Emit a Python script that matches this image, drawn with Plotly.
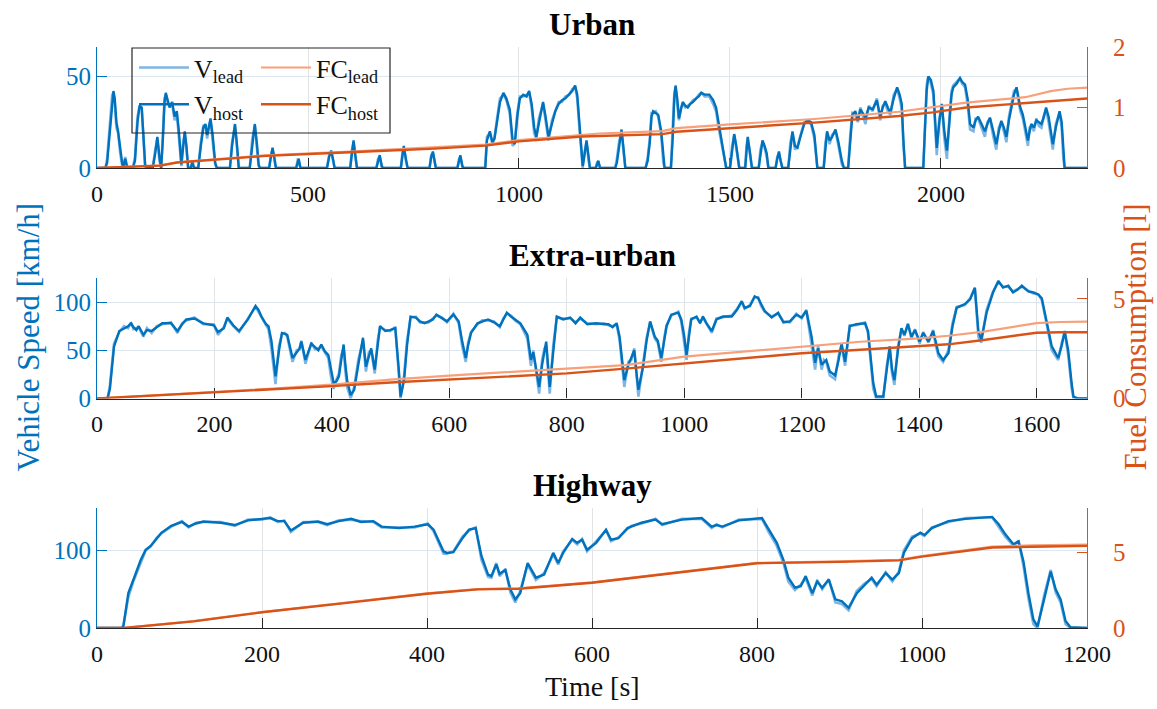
import plotly.graph_objects as go

# ---------------- Urban ----------------
urban_t = [0, 20, 24, 30, 36, 39, 42, 46, 50, 55, 60, 63, 67, 71, 75, 85, 90, 96, 101, 106, 110, 114, 118, 132, 138, 143, 148, 152, 156, 160, 163, 167, 172, 178, 184, 189, 194, 200, 203, 208, 212, 216, 222, 226, 230, 240, 246, 252, 257, 261, 265, 269, 274, 280, 284, 315, 320, 327, 332, 336, 362, 368, 374, 379, 383, 386, 408, 412, 416, 420, 424, 472, 476, 478, 482, 545, 550, 555, 560, 563, 600, 604, 608, 612, 616, 662, 666, 670, 675, 678, 720, 724, 727, 732, 736, 788, 792, 796, 800, 803, 854, 858, 861, 866, 869, 920, 924, 931, 937, 942, 948, 955, 963, 970, 978, 985, 990, 996, 1002, 1010, 1018, 1024, 1030, 1036, 1041, 1047, 1057, 1063, 1070, 1078, 1086, 1094, 1102, 1110, 1119, 1126, 1133, 1138, 1143, 1148, 1151, 1154, 1160, 1165, 1168, 1182, 1185, 1188, 1192, 1228, 1232, 1237, 1243, 1248, 1252, 1300, 1305, 1310, 1314, 1318, 1324, 1330, 1337, 1342, 1345, 1360, 1364, 1368, 1371, 1375, 1379, 1384, 1388, 1394, 1400, 1406, 1412, 1420, 1426, 1432, 1440, 1451, 1460, 1467, 1473, 1479, 1485, 1491, 1500, 1505, 1510, 1515, 1522, 1536, 1539, 1542, 1547, 1552, 1568, 1572, 1577, 1582, 1587, 1591, 1608, 1612, 1616, 1620, 1624, 1638, 1643, 1648, 1654, 1660, 1668, 1676, 1683, 1692, 1700, 1705, 1707, 1722, 1726, 1730, 1736, 1742, 1750, 1757, 1765, 1770, 1780, 1785, 1790, 1797, 1803, 1809, 1815, 1821, 1829, 1838, 1848, 1856, 1862, 1868, 1874, 1880, 1888, 1896, 1902, 1907, 1911, 1915, 1958, 1962, 1966, 1970, 1976, 1982, 1986, 1990, 1996, 2002, 2008, 2014, 2020, 2025, 2029, 2037, 2045, 2050, 2057, 2063, 2069, 2077, 2082, 2088, 2096, 2104, 2110, 2116, 2124, 2131, 2137, 2143, 2149, 2155, 2161, 2167, 2173, 2179, 2184, 2188, 2194, 2200, 2206, 2210, 2214, 2220, 2226, 2232, 2238, 2244, 2249, 2255, 2260, 2265, 2272, 2278, 2281, 2286, 2290, 2293, 2346]
urban_v_host = [0, 0, 3, 20, 38, 42, 38, 25, 20, 10, 2, 1, 5, 1, 0, 0, 4, 25, 34, 33, 20, 2, 0, 0, 8, 17, 6, 0, 15, 36, 41, 38, 33, 36, 28, 31, 20, 2, 10, 20, 12, 0, 0, 3, 0, 0, 12, 22, 24, 18, 22, 27, 18, 3, 0, 0, 12, 24, 12, 0, 0, 14, 24, 13, 2, 0, 0, 6, 11, 6, 0, 0, 4, 5, 0, 0, 6, 9.5, 4, 0, 0, 8, 15, 7, 0, 0, 4, 7, 1, 0, 0, 8, 12, 5, 0, 0, 6, 9, 3, 0, 0, 4, 7, 1, 0, 0, 15, 20, 14, 16, 25, 36, 41, 38, 32, 15, 13, 28, 38, 40, 39, 42, 35, 22, 17, 25, 36, 28, 17, 24, 31, 35, 37, 38, 40, 42, 45, 40, 25, 8, 1, 5, 15, 6, 0, 0, 2, 4, 0, 0, 3, 12, 21, 10, 0, 0, 4, 14, 28, 31, 30, 29, 20, 5, 0, 0, 15, 38, 45, 38, 27, 32, 36, 34, 33, 35, 36, 38, 39, 41, 40, 40, 37, 33, 25, 17, 8, 0, 0, 10, 18.5, 12, 0, 0, 10, 17, 9, 0, 0, 8, 15, 12, 8, 0, 0, 5, 9, 4, 0, 0, 12, 20, 12, 11, 18, 24, 26, 25, 18, 5, 0, 0, 12, 20, 15, 17, 21, 14, 4, 0, 0, 15, 29, 31, 26, 32, 30, 27.5, 33, 32, 37, 28, 33, 36.5, 33, 30, 38, 44, 40, 35, 15, 0, 0, 20, 42, 50, 48, 42, 25, 11, 25, 35, 20, 9.5, 25, 40, 44, 46, 49, 47, 45.5, 38, 24, 22, 26, 28, 24, 20, 24, 27.5, 20, 13, 20, 25.7, 22, 17, 26, 33, 40, 44, 38, 33, 29, 22, 15, 20, 24, 22, 26, 25, 24, 28, 33, 28, 20, 13, 22, 28, 31, 25, 8, 0, 0]
urban_v_lead = [0, 0, 5, 24, 40, 41, 36, 22, 19, 8, 1, 2, 6, 0, 0, 0, 6, 28, 34, 32, 17, 0, 0, 0, 10, 16, 4, 0, 18, 38, 40, 36, 34, 35, 26, 30, 17, 1, 12, 19, 10, 0, 0, 4, 0, 0, 14, 23, 23, 16, 23, 26, 15, 2, 0, 0, 14, 23, 10, 0, 0, 16, 23, 11, 1, 0, 0, 7, 10, 5, 0, 0, 5, 4, 0, 0, 7, 9, 3, 0, 0, 10, 14, 5, 0, 0, 5, 6, 0, 0, 0, 9, 11, 4, 0, 0, 7, 8, 2, 0, 0, 5, 6, 0, 0, 0, 17, 19, 13, 17, 27, 38, 40, 37, 30, 12, 14, 30, 39, 39, 40, 41, 33, 19, 16, 27, 35, 26, 15, 26, 31, 36, 36, 39, 40, 43, 44, 38, 22, 5, 0, 7, 14, 4, 0, 0, 3, 3, 0, 0, 5, 14, 20, 8, 0, 0, 6, 16, 30, 30, 31, 28, 18, 3, 0, 0, 18, 41, 44, 35, 26, 33, 35, 33, 34, 35, 37, 38, 40, 41, 39, 39, 35, 31, 22, 15, 6, 0, 0, 12, 18, 10, 0, 0, 12, 16, 7, 0, 0, 10, 14, 11, 6, 0, 0, 6, 8, 3, 0, 0, 14, 19, 10, 12, 19, 25, 25, 24, 16, 3, 0, 0, 14, 19, 13, 18, 20, 12, 2, 0, 0, 18, 30, 29, 25, 33, 29, 24, 34, 31, 38, 26, 34, 35, 31, 29, 40, 43, 38, 32, 12, 0, 0, 24, 45, 50, 46, 40, 22, 7, 27, 34, 16, 5, 28, 42, 45, 47, 49, 46, 44, 35, 21, 20, 27, 27, 22, 17, 25, 27, 17, 10, 22, 25, 20, 14, 28, 35, 42, 43, 36, 31, 27, 19, 12, 22, 23, 20, 27, 23, 22, 29, 32, 25, 17, 10, 24, 29, 30, 22, 5, 0, 0]
urban_fc_t = [0, 150, 190, 400, 600, 800, 920, 1000, 1150, 1190, 1340, 1373, 1500, 1700, 1900, 1980, 2060, 2200, 2260, 2300, 2346]
urban_fc_host = [0, 0.04, 0.09, 0.2, 0.26, 0.32, 0.37, 0.44, 0.52, 0.53, 0.56, 0.6, 0.66, 0.75, 0.86, 0.92, 1.0, 1.07, 1.11, 1.13, 1.15]
urban_fc_lead = [0, 0.045, 0.095, 0.21, 0.27, 0.335, 0.385, 0.46, 0.55, 0.57, 0.61, 0.66, 0.72, 0.81, 0.93, 1.0, 1.08, 1.17, 1.27, 1.31, 1.33]

# ---------------- Extra-urban ----------------
extra_t = [0, 18, 22, 29, 38, 46, 53, 58, 62, 67, 71, 79, 85, 93, 102, 111, 126, 137, 145, 152, 166, 181, 199, 206, 216, 222, 232, 242, 257, 265, 270, 275, 280, 288, 292, 297, 304, 310, 315, 320, 324, 333, 340, 345, 348, 355, 365, 371, 377, 382, 388, 394, 398, 403, 408, 412, 416, 420, 423, 426, 432, 438, 445, 453, 458, 463, 467, 473, 478, 482, 491, 499, 508, 511, 514, 517, 523, 528, 534, 543, 550, 558, 565, 572, 578, 588, 596, 607, 616, 622, 628, 632, 637, 648, 656, 666, 676, 686, 692, 698, 705, 712, 721, 733, 736, 739, 743, 747, 753, 758, 762, 765, 771, 777, 783, 794, 806, 815, 823, 835, 850, 864, 871, 878, 885, 890, 894, 898, 905, 910, 915, 919, 922, 930, 936, 942, 950, 955, 961, 966, 970, 978, 990, 995, 1000, 1004, 1008, 1012, 1021, 1027, 1032, 1038, 1047, 1055, 1066, 1081, 1090, 1098, 1103, 1112, 1120, 1126, 1131, 1137, 1149, 1160, 1169, 1180, 1191, 1200, 1208, 1212, 1217, 1223, 1228, 1234, 1238, 1242, 1248, 1257, 1263, 1268, 1274, 1278, 1282, 1293, 1308, 1313, 1318, 1322, 1327, 1339, 1345, 1350, 1354, 1358, 1364, 1370, 1375, 1381, 1387, 1393, 1401, 1407, 1416, 1424, 1428, 1433, 1441, 1450, 1457, 1464, 1478, 1487, 1495, 1498, 1501, 1506, 1515, 1526, 1535, 1543, 1552, 1560, 1568, 1575, 1586, 1595, 1603, 1609, 1617, 1626, 1637, 1643, 1648, 1654, 1660, 1663, 1671, 1686]
extra_v_host = [0, 0, 10, 54, 70, 73, 75, 78, 74, 71, 75, 66, 71, 70, 74, 78, 78, 70, 77, 82, 83, 78, 76, 69, 73, 84, 76, 70, 82, 90, 96, 92, 85, 77, 75, 60, 23, 50, 68, 67, 66, 42, 48, 52, 59, 40, 57, 53, 50, 56, 49, 45, 30, 16, 18, 23, 40, 56, 35, 19, 3.5, 9, 35, 63, 33, 45, 52, 30, 55, 75, 70, 71, 73, 55, 30, 2, 19, 55, 85, 84, 80, 78, 80, 82, 87, 83, 80, 87, 80, 59, 42, 55, 68, 78, 80, 82, 79, 75, 82, 89, 85, 82, 78, 66, 55, 40, 48, 35, 12, 35, 50, 59, 12, 50, 85, 82, 84, 78, 84, 77, 78, 77, 77, 74, 78, 64, 40, 19, 35, 42, 50, 25, 9, 33, 60, 80, 64, 60, 42, 60, 75, 87, 89, 82, 65, 45, 65, 82, 85, 78, 85, 78, 70, 82, 85, 85, 92, 101, 94, 96, 106, 104, 98, 91, 84, 89, 79, 80, 87, 84, 91, 80, 64, 37, 52, 35, 38, 40, 28, 24, 40, 57, 38, 55, 75, 77, 78, 70, 40, 16, 2, 2, 30, 54, 30, 19, 50, 73, 66, 77, 64, 71, 59, 68, 59, 70, 60, 47, 40, 47, 75, 94, 98, 103, 115, 95, 70, 61, 89, 110, 122, 115, 117, 110, 113, 117, 111, 110, 108, 104, 82, 54, 42, 55, 70, 50, 15, 2, 0, 0]
extra_v_lead = [0, 0, 14, 57, 69, 75, 73, 79, 72, 73, 74, 64, 73, 68, 75, 77, 79, 68, 78, 81, 84, 77, 77, 66, 74, 83, 75, 69, 83, 91, 95, 90, 84, 76, 72, 52, 15, 55, 67, 68, 64, 38, 50, 51, 60, 36, 58, 51, 52, 54, 48, 42, 24, 10, 20, 26, 45, 52, 28, 12, 0, 12, 40, 60, 28, 48, 50, 26, 60, 74, 71, 70, 74, 50, 22, 0, 24, 60, 84, 85, 79, 79, 79, 83, 86, 84, 79, 88, 78, 54, 38, 58, 69, 77, 81, 81, 80, 74, 83, 88, 86, 81, 77, 62, 50, 34, 50, 30, 5, 40, 52, 55, 5, 55, 84, 83, 83, 79, 83, 78, 77, 78, 76, 75, 77, 60, 34, 12, 38, 40, 52, 20, 2, 36, 63, 79, 62, 58, 38, 63, 76, 86, 90, 80, 60, 40, 68, 83, 84, 79, 84, 77, 68, 83, 84, 86, 93, 100, 93, 97, 105, 105, 96, 90, 85, 88, 80, 79, 88, 83, 92, 76, 58, 30, 55, 30, 40, 38, 24, 20, 44, 55, 34, 58, 76, 76, 79, 68, 34, 10, 0, 0, 34, 52, 26, 14, 54, 72, 65, 78, 62, 72, 57, 69, 58, 71, 56, 44, 38, 50, 78, 95, 97, 104, 114, 90, 64, 58, 92, 111, 121, 116, 116, 111, 114, 116, 112, 109, 108, 102, 78, 50, 40, 58, 68, 45, 10, 0, 0, 0]
extra_fc_t = [0, 100, 200, 300, 400, 500, 600, 700, 800, 900, 1000, 1100, 1200, 1300, 1400, 1450, 1510, 1560, 1600, 1640, 1686]
extra_fc_host = [0, 0.15, 0.3, 0.45, 0.62, 0.8, 0.96, 1.12, 1.26, 1.5, 1.76, 2.0, 2.27, 2.45, 2.63, 2.72, 2.94, 3.12, 3.3, 3.33, 3.33]
extra_fc_lead = [0, 0.16, 0.33, 0.5, 0.7, 0.95, 1.15, 1.32, 1.5, 1.68, 2.1, 2.35, 2.63, 2.85, 3.02, 3.15, 3.36, 3.58, 3.78, 3.84, 3.86]

# ---------------- Highway ----------------
hw_t = [0, 30, 32, 38, 44, 53, 59, 65, 72, 78, 90, 103, 111, 120, 129, 150, 167, 183, 200, 210, 219, 227, 235, 250, 268, 279, 293, 308, 320, 335, 345, 366, 385, 401, 408, 420, 424, 432, 443, 451, 459, 466, 474, 478, 484, 488, 495, 501, 507, 513, 522, 532, 542, 553, 559, 565, 576, 582, 588, 594, 605, 617, 623, 632, 643, 648, 660, 677, 685, 709, 733, 745, 751, 758, 778, 806, 814, 824, 832, 838, 846, 853, 859, 867, 873, 879, 887, 895, 903, 911, 921, 931, 939, 945, 956, 964, 972, 978, 988, 998, 1003, 1012, 1032, 1053, 1085, 1093, 1101, 1111, 1117, 1123, 1129, 1135, 1140, 1148, 1156, 1162, 1168, 1174, 1180, 1200]
hw_v_host = [0, 0, 2, 45, 62, 88, 101, 106, 115, 123, 132, 137, 131, 135, 137.5, 136, 133, 139, 141, 142, 138, 138, 126, 136, 137.5, 134, 138, 141, 137, 138, 131, 129, 131, 134, 127, 99, 97, 98, 116, 127, 129, 93, 69, 67, 82, 70, 75, 50, 37, 45, 84, 65, 69, 97, 84, 97, 115, 110, 114, 101, 110, 127, 114, 116, 129, 131, 136, 140, 134, 140, 142, 131, 133, 131, 139, 142, 127, 110, 88, 65, 52, 54, 67, 45, 60, 52, 62.5, 37, 34.5, 26, 45, 56, 65, 56, 71, 62.5, 71, 97, 116, 123, 120, 129, 138, 141, 143.5, 134, 121, 108, 112, 86, 45, 11, 2, 37, 73, 50, 37, 9, 1, 0]
hw_v_lead = [0, 0, 4, 40, 60, 84, 100, 105, 116, 122, 131, 138, 130, 136, 137, 137, 132, 140, 140, 143, 137, 139, 124, 137, 137, 133, 139, 140, 138, 137, 130, 130, 130, 135, 125, 96, 96, 99, 118, 126, 130, 88, 66, 65, 84, 67, 76, 46, 33, 48, 82, 62, 71, 95, 82, 99, 114, 108, 115, 99, 112, 126, 112, 117, 128, 132, 135, 141, 133, 141, 141, 129, 134, 130, 140, 141, 124, 106, 84, 60, 49, 56, 64, 42, 62, 50, 63, 33, 31, 23, 48, 58, 63, 54, 72, 60, 73, 100, 118, 122, 119, 130, 137, 142, 143, 131, 118, 106, 113, 80, 38, 5, 0, 42, 75, 46, 33, 5, 0, 0]
hw_fc_t = [0, 32, 117, 200, 300, 400, 461, 511, 600, 689, 800, 900, 972, 1000, 1085, 1133, 1200]
hw_fc_host = [0, 0, 0.44, 1.04, 1.65, 2.27, 2.56, 2.6, 3.0, 3.56, 4.29, 4.38, 4.48, 4.73, 5.33, 5.38, 5.44]
hw_fc_lead = [0, 0, 0.45, 1.05, 1.67, 2.29, 2.58, 2.63, 3.02, 3.58, 4.31, 4.41, 4.52, 4.77, 5.4, 5.47, 5.52]

# ---------------- styling ----------------
BLUE = "#0072BD"
LBLUE = "#7FB5E3"
ORANGE = "#D95319"
LORANGE = "#F7A07A"
FONT = "'Liberation Serif', 'Times New Roman', serif"

W, H = 1157, 709
ML, MR, MT, MB = 97, 70, 47, 81
PH = H - MT - MB
PW = W - ML - MR


def dom(top_px, bot_px):
    return [(H - MB - bot_px) / PH, (H - MB - top_px) / PH]


panels = [
    dict(name="Urban", t=urban_t, vh=urban_v_host, vl=urban_v_lead, ft=urban_fc_t, fh=urban_fc_host, fl=urban_fc_lead,
         xr=[0, 2346], xt=[0, 500, 1000, 1500, 2000], yr=[0, 66], yt=[0, 50], y2r=[0, 2], y2t=[0, 1, 2],
         dom=dom(47, 168)),
    dict(name="Extra-urban", t=extra_t, vh=extra_v_host, vl=extra_v_lead, ft=extra_fc_t, fh=extra_fc_host, fl=extra_fc_lead,
         xr=[0, 1686], xt=list(range(0, 1700, 200)), yr=[0, 125], yt=[0, 50, 100], y2r=[0, 6.05], y2t=[0, 5],
         dom=dom(278, 398.5)),
    dict(name="Highway", t=hw_t, vh=hw_v_host, vl=hw_v_lead, ft=hw_fc_t, fh=hw_fc_host, fl=hw_fc_lead,
         xr=[0, 1200], xt=list(range(0, 1201, 200)), yr=[0, 155], yt=[0, 100], y2r=[0, 7.95], y2t=[0, 5],
         dom=dom(508, 628)),
]

fig = go.Figure()
layout = dict(
    width=W, height=H,
    margin=dict(l=ML, r=MR, t=MT, b=MB),
    paper_bgcolor="white", plot_bgcolor="white",
    font=dict(family=FONT, size=22, color="#262626"),
    showlegend=True,
)
annotations = []
for i, p in enumerate(panels):
    xa = "x" if i == 0 else f"x{i+1}"
    ya = "y" if i == 0 else f"y{2*i+1}"
    ya2 = f"y{2*i+2}"
    first = i == 0
    fig.add_trace(go.Scatter(x=p["t"], y=p["vl"], xaxis=xa, yaxis=ya, mode="lines",
                             line=dict(color=LBLUE, width=2.6), name="V<sub>lead</sub>",
                             legend="legend", showlegend=first, legendrank=1))
    fig.add_trace(go.Scatter(x=p["t"], y=p["vh"], xaxis=xa, yaxis=ya, mode="lines",
                             line=dict(color=BLUE, width=2.4), name="V<sub>host</sub>",
                             legend="legend", showlegend=first, legendrank=2))
    fig.add_trace(go.Scatter(x=p["ft"], y=p["fl"], xaxis=xa, yaxis=ya2, mode="lines",
                             line=dict(color=LORANGE, width=2.2), name="FC<sub>lead</sub>",
                             legend="legend2", showlegend=first, legendrank=1))
    fig.add_trace(go.Scatter(x=p["ft"], y=p["fh"], xaxis=xa, yaxis=ya2, mode="lines",
                             line=dict(color=ORANGE, width=2.4), name="FC<sub>host</sub>",
                             legend="legend2", showlegend=first, legendrank=2))
    xkey = "xaxis" if i == 0 else f"xaxis{i+1}"
    ykey = "yaxis" if i == 0 else f"yaxis{2*i+1}"
    y2key = f"yaxis{2*i+2}"
    layout[xkey] = dict(domain=[0, 1], anchor=ya, range=p["xr"], tickvals=p["xt"], ticks="inside", ticklen=10,
                        tickcolor="#262626", showline=True, linecolor="#262626", linewidth=1.2,
                        showgrid=True, gridcolor="#E3E3E3", gridwidth=1, zeroline=False,
                        ticklabelstandoff=4,
                        tickfont=dict(family=FONT, size=24, color="#111111"), layer="below traces")
    layout[ykey] = dict(domain=p["dom"], anchor=xa, range=p["yr"], tickvals=p["yt"], ticks="inside", ticklen=10,
                        tickcolor=BLUE, showline=True, linecolor=BLUE, linewidth=1.2,
                        showgrid=True, gridcolor="#DCE7F0", gridwidth=1, zeroline=False,
                        tickfont=dict(family=FONT, size=25, color=BLUE), layer="below traces")
    layout[y2key] = dict(overlaying=ya, side="right", anchor=xa, range=p["y2r"], tickvals=p["y2t"],
                         ticks="inside", ticklen=10, tickcolor=ORANGE, showline=True, linecolor=ORANGE,
                         linewidth=1.2, showgrid=False, zeroline=False, ticklabelstandoff=20,
                         tickfont=dict(family=FONT, size=25, color=ORANGE), layer="below traces")
    annotations.append(dict(text=f"<b>{p['name']}</b>", xref="paper", yref="paper", x=0.5, y=p["dom"][1],
                            yanchor="bottom", xanchor="center", yshift=3, showarrow=False,
                            font=dict(family=FONT, size=31, color="black")))

annotations.append(dict(text="Vehicle Speed [km/h]", xref="paper", yref="paper", x=(28 - ML) / PW, y=0.5,
                        xanchor="center", yanchor="middle", textangle=-90, showarrow=False,
                        font=dict(family=FONT, size=31, color=BLUE)))
annotations.append(dict(text="Fuel Consumption [l]", xref="paper", yref="paper", x=(1135 - ML) / PW, y=0.5,
                        xanchor="center", yanchor="middle", textangle=-90, showarrow=False,
                        font=dict(family=FONT, size=31, color=ORANGE)))
annotations.append(dict(text="Time [s]", xref="paper", yref="paper", x=0.5, y=0, yanchor="top",
                        xanchor="center", yshift=-41, showarrow=False,
                        font=dict(family=FONT, size=28, color="#111111")))
layout["annotations"] = annotations

top_u = panels[0]["dom"][1]
layout["legend"] = dict(x=(134 - ML) / PW, y=top_u + 0.005, xanchor="left", yanchor="top",
                        bgcolor="rgba(0,0,0,0)", borderwidth=0, itemwidth=50,
                        font=dict(family=FONT, size=26, color="#111111"), tracegroupgap=0)
layout["legend2"] = dict(x=(256 - ML) / PW, y=top_u + 0.005, xanchor="left", yanchor="top",
                         bgcolor="rgba(0,0,0,0)", borderwidth=0, itemwidth=50,
                         font=dict(family=FONT, size=26, color="#111111"), tracegroupgap=0)
layout["shapes"] = [dict(type="rect", xref="paper", yref="paper",
                         x0=(132 - ML) / PW, x1=(390 - ML) / PW,
                         y0=(H - MB - 133) / PH, y1=(H - MB - 48) / PH,
                         line=dict(color="#262626", width=1.2), fillcolor="rgba(0,0,0,0)", layer="above")]
fig.update_layout(**layout)
fig.write_html("out.html", config={"displayModeBar": False})

# remove the default page margin so the figure sits at the window's top-left corner
with open("out.html", "r", encoding="utf-8") as f:
    html = f.read()
html = html.replace("<body>", "<body style=\"margin:0;padding:0\">", 1)
with open("out.html", "w", encoding="utf-8") as f:
    f.write(html)
